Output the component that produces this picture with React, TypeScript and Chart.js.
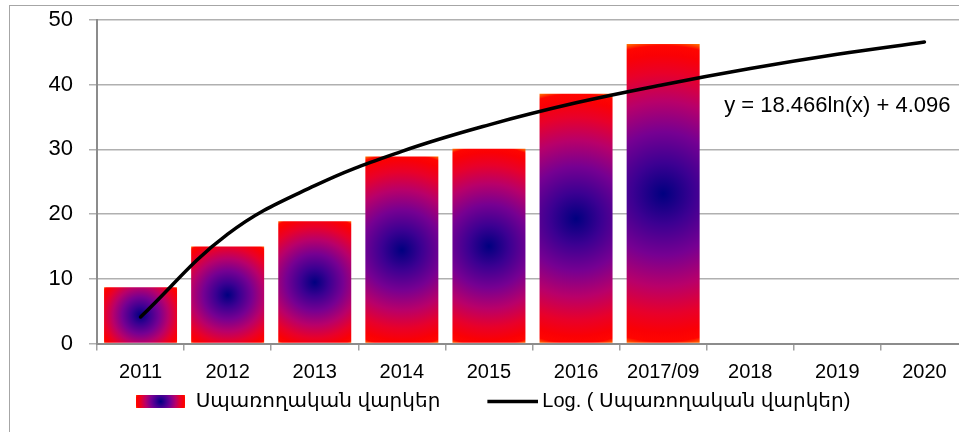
import React, { useEffect, useRef } from "react";
import { Chart, registerables } from "chart.js";

Chart.register(...registerables);

// ---- data ----
const categories = ["2011", "2012", "2013", "2014", "2015", "2016", "2017/09", "2018", "2019", "2020"];
const loanValues: (number | null)[] = [8.7, 15.0, 18.9, 28.9, 30.1, 38.6, 46.3, null, null, null];
const trendValues = [4.1, 16.9, 24.4, 29.7, 33.8, 37.2, 40.0, 42.5, 44.7, 46.6];
const yMin = 0;
const yMax = 50;
const yStep = 10;
const seriesLabel = "Սպառողական վարկեր";
const trendLabel = "Log. ( Սպառողական վարկեր)";
const equationText = "y = 18.466ln(x) + 4.096";
const equationAt = { category: 8, value: 36.7 };

// ---- style ----
const FONT = '"Liberation Sans", "DejaVu Sans", sans-serif';
const BAR_PCT = 0.838;
const CANVAS_W = 970;
const CANVAS_H = 460;
const gradStops: [number, string][] = [
  [0, "#000080"],
  [0.2, "#3c0092"],
  [0.4, "#760092"],
  [0.6, "#b8006a"],
  [0.78, "#e8002a"],
  [0.9, "#fa0005"],
  [0.96, "#ff0500"],
  [1, "#ff7a00"],
];

function radial(ctx: CanvasRenderingContext2D, x0: number, y0: number, x1: number, y1: number) {
  const cx = (x0 + x1) / 2;
  const cy = (y0 + y1) / 2;
  const r = Math.max(1, Math.hypot((x1 - x0) / 2, (y1 - y0) / 2));
  const g = ctx.createRadialGradient(cx, cy, 0, cx, cy, r);
  gradStops.forEach(([o, c]) => g.addColorStop(o, c));
  return g;
}

function makeBoxImage() {
  const c = document.createElement("canvas");
  c.width = 49;
  c.height = 13;
  const ctx = c.getContext("2d")!;
  ctx.fillStyle = radial(ctx, 0, 0, 49, 13);
  ctx.fillRect(0, 0, 49, 13);
  return c;
}

function makeLineImage() {
  const c = document.createElement("canvas");
  c.width = 62;
  c.height = 13;
  const ctx = c.getContext("2d")!;
  ctx.strokeStyle = "#000";
  ctx.lineWidth = 3.5;
  ctx.beginPath();
  ctx.moveTo(11, 6.5);
  ctx.lineTo(62, 6.5);
  ctx.stroke();
  return c;
}

const equationPlugin = {
  id: "equationLabel",
  afterLayout(chart: any) {
    // keep the legend row just under the axis labels
    const lg = chart.legend;
    if (lg) {
      const h = lg.height;
      lg.top = chart.chartArea.bottom + 6;
      lg.bottom = lg.top + h;
    }
  },
  afterDatasetsDraw(chart: any) {
    const { ctx, scales } = chart;
    ctx.save();
    ctx.font = `22px ${FONT}`;
    ctx.fillStyle = "#000";
    ctx.textAlign = "center";
    ctx.textBaseline = "middle";
    ctx.fillText(
      equationText,
      scales.x.getPixelForValue(equationAt.category),
      scales.y.getPixelForValue(equationAt.value)
    );
    ctx.restore();
  },
};

export default function App() {
  const ref = useRef<HTMLCanvasElement | null>(null);

  useEffect(() => {
    if (!ref.current) return;
    const boxImg = makeBoxImage();
    const lineImg = makeLineImage();

    const chart = new Chart(ref.current, {
      type: "bar",
      data: {
        labels: categories,
        datasets: [
          {
            type: "line",
            label: trendLabel,
            data: trendValues,
            borderColor: "#000",
            borderWidth: 3.5,
            pointRadius: 0,
            tension: 0.4,
            borderCapStyle: "round",
            borderJoinStyle: "round",
            fill: false,
            order: 1,
          } as any,
          {
            type: "bar",
            label: seriesLabel,
            data: loanValues,
            borderWidth: 0,
            barPercentage: BAR_PCT,
            categoryPercentage: 1,
            order: 2,
            backgroundColor: (c: any) => {
              const ch = c.chart;
              const xs = ch.scales.x;
              const ys = ch.scales.y;
              const v = c.raw;
              if (!xs || !ys || v == null) return "#7a0080";
              const cx = xs.getPixelForValue(c.dataIndex);
              const w = (xs.width / categories.length) * BAR_PCT;
              const top = ys.getPixelForValue(v);
              const bottom = ys.getPixelForValue(0);
              return radial(ch.ctx, cx - w / 2, top, cx + w / 2, bottom);
            },
          } as any,
        ],
      },
      options: {
        responsive: false,
        animation: false,
        devicePixelRatio: 1,
        font: { family: FONT, size: 20 },
        color: "#000",
        layout: { padding: { left: 8, right: 12, top: 14, bottom: 9.5 } },
        plugins: {
          tooltip: { enabled: false },
          legend: {
            position: "bottom",
            onClick: () => {},
            labels: {
              usePointStyle: true,
              pointStyleWidth: 50,
              boxHeight: 13,
              padding: 42,
              color: "#000",
              font: { family: FONT, size: 20 },
              generateLabels: () => [
                {
                  text: seriesLabel,
                  pointStyle: boxImg,
                  fillStyle: "transparent",
                  strokeStyle: "transparent",
                  lineWidth: 0,
                  hidden: false,
                  datasetIndex: 1,
                } as any,
                {
                  text: trendLabel,
                  pointStyle: lineImg,
                  fillStyle: "transparent",
                  strokeStyle: "transparent",
                  lineWidth: 0,
                  hidden: false,
                  datasetIndex: 0,
                } as any,
              ],
            },
          },
        },
        scales: {
          x: {
            offset: true,
            afterFit: (s: any) => {
              s.height = 41;
            },
            border: { color: "#8c8c8c", width: 2 },
            grid: {
              display: true,
              drawOnChartArea: false,
              drawTicks: true,
              tickLength: 7,
              offset: true,
              color: "#a0a0a0",
              lineWidth: 1.5,
            },
            ticks: {
              color: "#000",
              padding: 10,
              maxRotation: 0,
              autoSkip: false,
              font: { family: FONT, size: 20 },
            },
          },
          y: {
            min: yMin,
            max: yMax,
            afterFit: (s: any) => {
              s.width = 79;
              s.paddingTop = 12;
              s.paddingBottom = 12;
            },
            border: { color: "#8c8c8c", width: 2 },
            grid: {
              color: "#b0b0b0",
              lineWidth: 1.5,
              tickLength: 8,
              drawTicks: true,
            },
            ticks: {
              stepSize: yStep,
              color: "#000",
              padding: 16,
              font: { family: FONT, size: 22 },
            },
          },
        },
      },
      plugins: [equationPlugin],
    });

    return () => chart.destroy();
  }, []);

  return (
    <div
      style={{
        position: "absolute",
        left: 0,
        top: 0,
        width: 959,
        height: 432,
        overflow: "hidden",
        background: "#fff",
      }}
    >
      <div
        style={{
          position: "absolute",
          left: 9,
          top: 5,
          width: CANVAS_W,
          height: CANVAS_H,
          border: "1px solid #a6a6a6",
          background: "#fff",
        }}
      >
        <canvas
          ref={ref}
          width={CANVAS_W}
          height={CANVAS_H}
          style={{ display: "block", width: CANVAS_W, height: CANVAS_H }}
        />
      </div>
    </div>
  );
}
